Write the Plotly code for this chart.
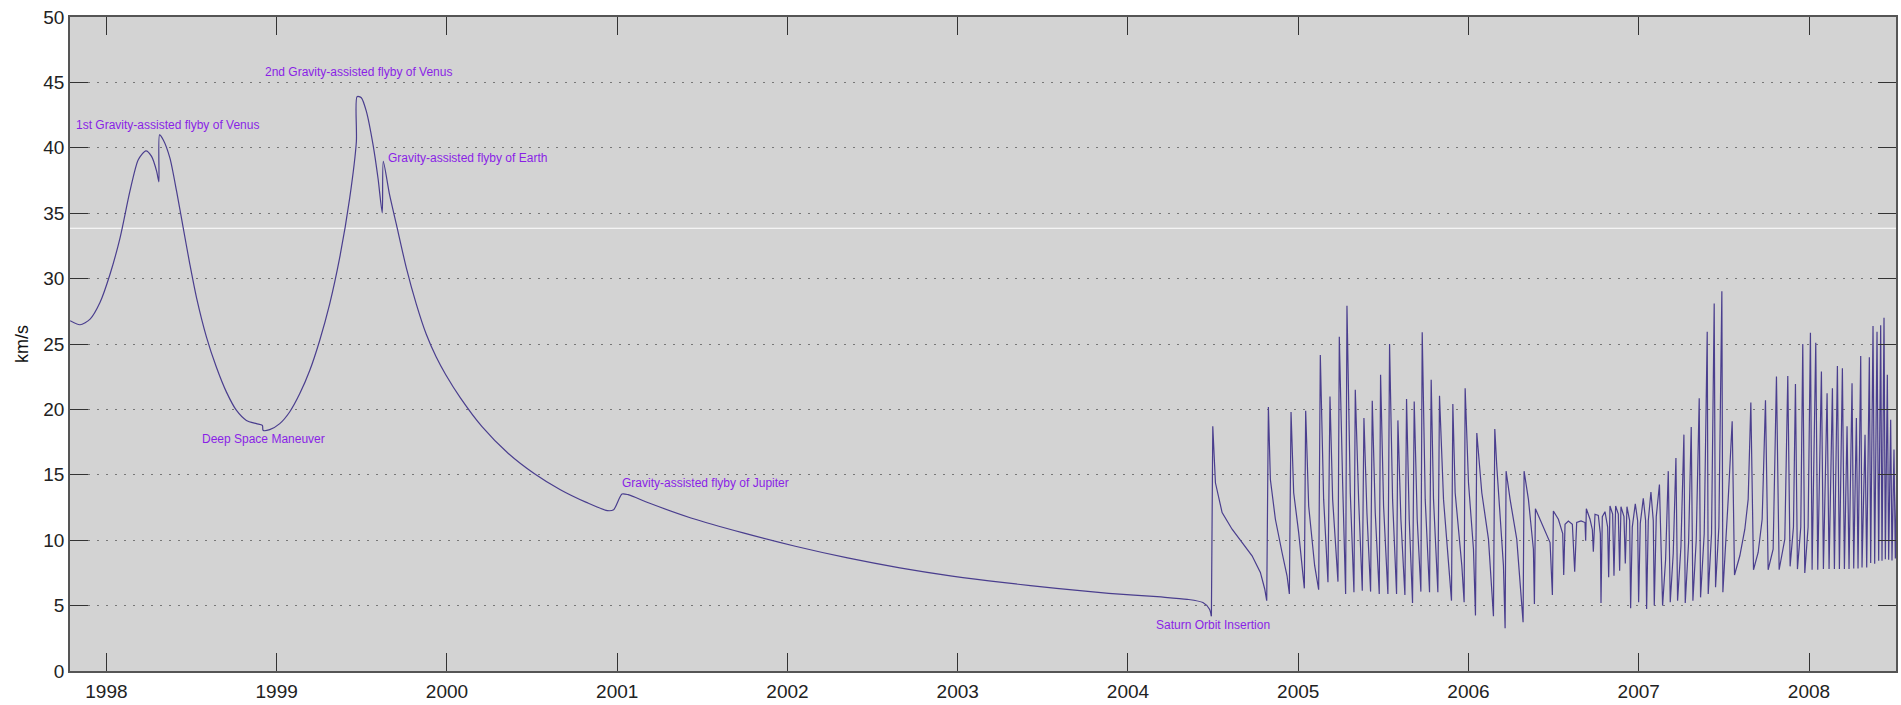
import plotly.graph_objects as go

# Decimal-year time stamps and speed (km/s)
cruise_t = [1997.787, 1997.845, 1997.904, 1997.962, 1998.021, 1998.080, 1998.138, 1998.187,
            1998.232, 1998.265, 1998.295, 1998.308, 1998.312, 1998.334, 1998.373, 1998.412,
            1998.451, 1998.490, 1998.529, 1998.588, 1998.646, 1998.705, 1998.764, 1998.822,
            1998.881, 1998.916, 1998.920, 1998.959, 1999.018, 1999.076, 1999.135, 1999.194,
            1999.252, 1999.311, 1999.370, 1999.429, 1999.468, 1999.472, 1999.497, 1999.527,
            1999.566, 1999.595, 1999.620, 1999.626, 1999.663, 1999.703, 1999.761, 1999.820,
            1999.878, 1999.937, 1999.993, 2000.078, 2000.206, 2000.359, 2000.512, 2000.666,
            2000.819, 2000.942, 2000.979, 2001.028, 2001.064, 2001.187, 2001.433, 2001.740,
            2002.046, 2002.353, 2002.660, 2002.967, 2003.274, 2003.580, 2003.887, 2004.194,
            2004.348, 2004.440, 2004.479, 2004.490]
cruise_v = [26.78, 26.47, 26.90, 28.17, 30.33, 33.12, 36.68, 39.09,
            39.77, 39.34, 38.20, 37.39, 40.99, 40.60, 39.21, 36.68,
            33.88, 31.09, 28.55, 25.51, 23.22, 21.32, 19.92, 19.16,
            18.91, 18.78, 18.40, 18.45, 18.91, 19.80, 21.19, 22.97,
            25.25, 28.05, 31.60, 36.17, 40.48, 43.91, 43.83, 42.77,
            40.23, 37.69, 35.03, 38.96, 36.42, 34.14, 30.84, 28.05,
            25.76, 24.00, 22.65, 20.90, 18.68, 16.65, 15.10, 13.86,
            12.89, 12.26, 12.33, 13.53, 13.48, 12.84, 11.70, 10.56,
            9.54, 8.65, 7.89, 7.26, 6.75, 6.32, 5.94, 5.66,
            5.48, 5.23, 4.72, 4.19]

orbit1_t = [2004.4981, 2004.5137, 2004.5529, 2004.6115, 2004.6702, 2004.7289, 2004.7777, 2004.8032,
            2004.8149, 2004.8247, 2004.8364, 2004.8658, 2004.9049, 2004.9342, 2004.9479, 2004.9577,
            2004.9733, 2005.0026, 2005.0359, 2005.0437, 2005.0613, 2005.0965, 2005.1200, 2005.1297,
            2005.1493, 2005.1747, 2005.1865, 2005.2021, 2005.2334, 2005.2412, 2005.2608, 2005.2784,
            2005.2862, 2005.3058, 2005.3273, 2005.3351, 2005.3547, 2005.3762, 2005.3859, 2005.4035,
            2005.4250, 2005.4348, 2005.4524, 2005.4759, 2005.4837, 2005.5013, 2005.5267, 2005.5365,
            2005.5541, 2005.5776, 2005.5854, 2005.6030, 2005.6265, 2005.6362, 2005.6519, 2005.6714,
            2005.6812, 2005.6989, 2005.7204, 2005.7282, 2005.7458, 2005.7712]
orbit1_v = [18.71, 14.39, 12.11, 10.84, 9.82, 8.81, 7.54, 6.27,
            5.38, 20.18, 14.64, 11.60, 9.06, 7.28, 5.89, 19.80,
            13.63, 10.58, 6.32, 19.90, 12.61, 8.05, 6.22, 24.16,
            13.12, 6.78, 20.99, 13.12, 6.83, 25.56, 14.39, 5.89,
            27.92, 13.63, 6.02, 21.50, 13.12, 6.14, 19.34, 12.10,
            6.07, 20.66, 12.10, 5.89, 22.64, 12.61, 5.89, 25.00,
            13.12, 5.89, 19.16, 11.60, 5.81, 20.79, 11.60, 5.20,
            20.61, 11.60, 6.07, 25.89, 13.12, 6.02]

orbit2_t = [2005.7809, 2005.7946, 2005.8201, 2005.8298, 2005.8533, 2005.8865, 2005.9002, 2005.9081,
            2005.9217, 2005.9609, 2005.9745, 2005.9804, 2006.0000, 2006.0293, 2006.0410, 2006.0489,
            2006.0782, 2006.1173, 2006.1466, 2006.1545, 2006.1662, 2006.2053, 2006.2151, 2006.2210,
            2006.2444, 2006.2835, 2006.3207, 2006.3266, 2006.3520, 2006.3813, 2006.3872, 2006.3931,
            2006.4302, 2006.4791, 2006.4928, 2006.4986, 2006.5280, 2006.5534, 2006.5593, 2006.5671,
            2006.5866, 2006.6101, 2006.6238, 2006.6355, 2006.6610, 2006.6844, 2006.6883, 2006.6922,
            2006.7138, 2006.7275, 2006.7333, 2006.7431, 2006.7626, 2006.7744, 2006.7783, 2006.7861,
            2006.8017, 2006.8174, 2006.8233, 2006.8311, 2006.8467, 2006.8545, 2006.8643, 2006.8800,
            2006.8878, 2006.8956, 2006.9132, 2006.9211, 2006.9308, 2006.9465, 2006.9524, 2006.9621,
            2006.9797, 2006.9934, 2006.9993, 2007.0091, 2007.0267, 2007.0403, 2007.0462, 2007.0560,
            2007.0716, 2007.0853, 2007.0912, 2007.1029, 2007.1215]
orbit2_v = [22.26, 13.12, 6.02, 21.04, 13.12, 8.05, 5.38, 20.41,
            13.63, 8.05, 5.25, 21.62, 14.39, 9.31, 4.24, 18.20,
            13.63, 10.08, 4.19, 18.50, 15.66, 8.05, 3.27, 15.28,
            13.12, 10.08, 3.73, 15.28, 13.12, 9.31, 5.13, 12.41,
            11.35, 9.82, 5.81, 12.23, 11.60, 10.50, 7.34, 11.22,
            11.47, 11.22, 7.59, 11.35, 11.47, 11.35, 9.95, 12.41,
            11.60, 10.80, 9.11, 11.98, 11.90, 10.50, 5.20, 11.80,
            12.18, 11.00, 7.16, 12.61, 12.00, 7.28, 12.61, 12.00,
            7.66, 12.56, 11.80, 8.22, 12.56, 11.50, 4.80, 11.00,
            12.79, 11.50, 5.25, 11.30, 13.20, 11.50, 4.75, 11.50,
            13.68, 11.50, 5.00, 11.80, 14.26]

orbit3_t = [2007.1401, 2007.1577, 2007.1734, 2007.1851, 2007.2027, 2007.2184, 2007.2281, 2007.2477,
            2007.2653, 2007.2731, 2007.2927, 2007.3083, 2007.3181, 2007.3376, 2007.3552, 2007.3630,
            2007.3846, 2007.4022, 2007.4080, 2007.4276, 2007.4432, 2007.4511, 2007.4706, 2007.4882,
            2007.4941, 2007.5254, 2007.5488, 2007.5625, 2007.5938, 2007.6231, 2007.6427, 2007.6584,
            2007.6740, 2007.7014, 2007.7249, 2007.7444, 2007.7600, 2007.7894, 2007.8089, 2007.8246,
            2007.8579, 2007.8754, 2007.8891, 2007.9087, 2007.9204, 2007.9321, 2007.9517, 2007.9634,
            2007.9752, 2007.9947, 2008.0084, 2008.0182, 2008.0397, 2008.0514, 2008.0729, 2008.0847,
            2008.1062, 2008.1179, 2008.1375, 2008.1492, 2008.1668, 2008.1785, 2008.1961, 2008.2079,
            2008.2235, 2008.2352, 2008.2528, 2008.2626, 2008.2783, 2008.2880, 2008.3037, 2008.3115,
            2008.3291, 2008.3389, 2008.3545, 2008.3623, 2008.3760, 2008.3858, 2008.3995, 2008.4093,
            2008.4210, 2008.4288, 2008.4406, 2008.4484, 2008.4601, 2008.4679, 2008.4797, 2008.4875,
            2008.4992, 2008.5071, 2008.5169]
orbit3_v = [5.00, 8.50, 15.28, 5.25, 9.00, 16.29, 5.38, 9.50,
            18.07, 5.20, 9.80, 18.65, 5.38, 10.00, 20.86, 5.63,
            10.50, 25.94, 5.89, 10.50, 28.10, 6.40, 11.00, 29.04,
            6.02, 13.12, 19.09, 7.34, 8.81, 10.84, 13.12, 20.53,
            7.74, 9.06, 11.60, 20.69, 7.74, 9.31, 22.51, 7.74,
            10.08, 22.56, 8.00, 11.00, 21.95, 7.79, 11.00, 25.00,
            7.49, 11.00, 25.86, 7.74, 25.10, 7.74, 22.89, 7.79,
            21.24, 7.79, 21.62, 7.79, 23.32, 7.79, 23.15, 7.79,
            18.71, 7.79, 22.00, 7.84, 19.34, 7.84, 24.09, 7.92,
            18.07, 7.92, 23.98, 8.25, 26.37, 8.20, 25.94, 8.43,
            26.44, 8.43, 27.00, 8.55, 22.64, 8.50, 19.21, 8.45,
            16.93, 8.60, 15.41]

year_ticks = [1998, 1999, 2000, 2001, 2002, 2003, 2004, 2005, 2006, 2007, 2008]
speed_ticks = [0, 5, 10, 15, 20, 25, 30, 35, 40, 45, 50]

event_labels = ["1st Gravity-assisted flyby of Venus", "2nd Gravity-assisted flyby of Venus",
                "Gravity-assisted flyby of Earth", "Deep Space Maneuver",
                "Gravity-assisted flyby of Jupiter", "Saturn Orbit Insertion"]
event_t = [1997.808, 1998.921, 1999.642, 1998.547, 2001.019, 2004.150]
event_v = [41.76, 45.79, 39.23, 17.72, 14.35, 3.52]

line_style = dict(color="#4a3e8e", width=1.2)

# cruise phase: smooth curve
fig = go.Figure()
fig.add_trace(go.Scatter(x=cruise_t, y=cruise_v, mode="lines",
                         line=dict(**line_style, shape="spline", smoothing=0.7),
                         hoverinfo="x+y", showlegend=False))

# Saturn orbit phase, starting from the last cruise sample
sat_t = cruise_t[-1:] + orbit1_t + orbit2_t + orbit3_t
sat_v = cruise_v[-1:] + orbit1_v + orbit2_v + orbit3_v
fig.add_trace(go.Scatter(x=sat_t, y=sat_v, mode="lines", line=line_style,
                         hoverinfo="x+y", showlegend=False))

for lab, ex, ey in zip(event_labels, event_t, event_v):
    fig.add_annotation(x=ex, y=ey, text=lab, showarrow=False, xanchor="left", yanchor="middle",
                       font=dict(family="Liberation Sans Narrow, Arial Narrow, Liberation Sans, sans-serif",
                                 size=12, color="#8a1fe6"))

fig.add_shape(type="line", xref="paper", x0=0, x1=1, yref="y", y0=33.85, y1=33.85,
              line=dict(color="white", width=1), layer="below")

axis_font = dict(family="Liberation Sans, Arial, sans-serif", size=19, color="#222")
fig.update_layout(
    width=1901, height=705,
    margin=dict(l=70, r=3, t=17, b=29),
    paper_bgcolor="white", plot_bgcolor="#d3d3d3",
    xaxis=dict(range=[1997.786, 2008.511], tickvals=year_ticks,
               ticktext=[str(y) for y in year_ticks], showgrid=False, zeroline=False,
               ticks="inside", ticklen=18, tickwidth=1.3, tickcolor="#333",
               showline=True, linecolor="#555", linewidth=1.5, mirror="allticks",
               tickfont=axis_font, ticklabelstandoff=2),
    yaxis=dict(range=[0, 50], tickvals=speed_ticks, showgrid=True, gridcolor="#777",
               griddash="2px,7px", gridwidth=1, zeroline=False,
               ticks="inside", ticklen=18, tickwidth=1.3, tickcolor="#333",
               showline=True, linecolor="#555", linewidth=1.5, mirror="allticks",
               tickfont=axis_font,
               title=dict(text="km/s", font=dict(family="Liberation Sans, Arial, sans-serif", size=18, color="#111"),
                          standoff=10)),
)

fig.write_html("out.html", config={"displayModeBar": False},
               post_script="document.body.style.margin='0';document.body.style.overflow='hidden';")
